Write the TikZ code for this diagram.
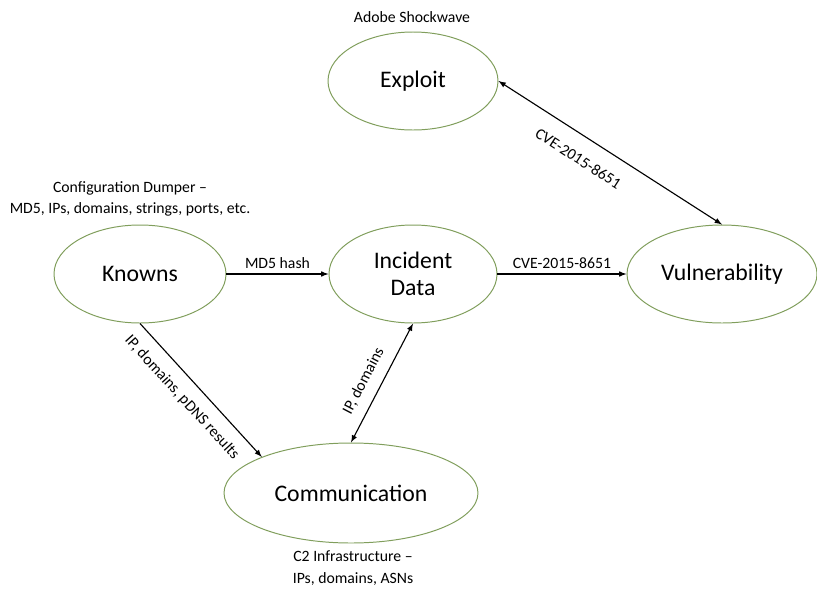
\documentclass[tikz,border=0pt]{standalone}
\usepackage{fontspec}
\setmainfont{Carlito}
\usetikzlibrary{shapes.geometric}
\definecolor{ringgreen}{RGB}{128,158,92}

\begin{document}
\begin{tikzpicture}[>=latex,
        entity/.style={ellipse, draw=ringgreen, line width=0.7pt, inner sep=0pt,
            minimum height=2.45cm, font=\fontsize{16.9}{19.5}\selectfont, align=center},
        link/.style={font=\fontsize{11.2}{13}\selectfont},
        note/.style={font=\fontsize{11.2}{15.5}\selectfont, align=center}]
        \useasboundingbox (0, 0) rectangle (20.425, -14.8);

        \node[entity, minimum width=4.25cm] (exploit) at (10.325, -2.025) {Exploit};
        \node[entity, minimum width=4.3cm] (knowns) at (3.5, -6.85) {Knowns};
        \node[entity, minimum width=4.2cm] (incident) at (10.325, -6.85) {Incident\\Data};
        \node[entity, minimum width=4.75cm] (vuln) at (18.05, -6.85) {Vulnerability};
        \node[entity, minimum width=6.35cm, minimum height=2.5cm] (comm) at (8.775, -12.325) {Communication};

        \node[note] (shockwave) at (10.3, -0.425) {Adobe Shockwave};
        \node[note] (dumper) at (3.25, -4.975) {Configuration Dumper –\\MD5, IPs, domains, strings, ports, etc.};
        \node[note] (c2) at (8.825, -14.2) {C2 Infrastructure –\\IPs, domains, ASNs};

        \draw[->, thick] (knowns) -- (incident) node[link, midway, above] {MD5 hash};
        \draw[->, thick] (incident) -- (vuln) node[link, midway, above] {CVE-2015-8651};
        \draw[<->, thick] (exploit.east) -- (vuln.north) node[link, sloped, below=8pt, pos=0.41] {CVE-2015-8651};
        \draw[->, thick] (knowns.south) -- (comm.158) node[link, sloped, below=5pt, pos=0.46] {IP, domains, pDNS results};
        \draw[<->, thick] (comm.north) -- (incident.south) node[link, sloped, above=4pt, pos=0.45] {IP, domains};
    \end{tikzpicture}
\end{document}
